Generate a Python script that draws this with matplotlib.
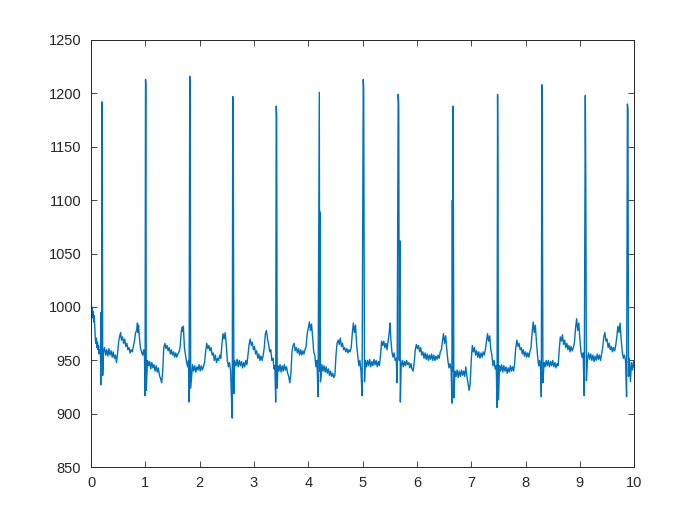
import matplotlib
matplotlib.use('Agg')
import matplotlib.pyplot as plt

# ECG trace, one line per beat (time in s, amplitude)
t = [
    0.00, 0.01, 0.02, 0.03, 0.04, 0.05, 0.06, 0.07, 0.08, 0.09, 0.10, 0.11, 0.12, 0.13, 0.14, 0.15, 0.16, 0.175, 0.180, 0.186, 0.195, 0.203, 0.208, 0.215,
    0.23, 0.25, 0.27, 0.29, 0.31, 0.33, 0.35, 0.37, 0.39, 0.41, 0.43, 0.45, 0.47, 0.49, 0.51, 0.53, 0.545, 0.56, 0.58, 0.60, 0.62, 0.64, 0.66, 0.68, 0.70, 0.72, 0.74, 0.76, 0.78, 0.80, 0.82, 0.84, 0.855, 0.865, 0.875, 0.89, 0.91, 0.93, 0.95, 0.97, 0.985, 0.995, 1.004, 1.010, 1.017,
    1.04, 1.06, 1.08, 1.10, 1.12, 1.14, 1.16, 1.18, 1.20, 1.22, 1.24, 1.26, 1.28, 1.30, 1.32, 1.34, 1.36, 1.38, 1.40, 1.42, 1.44, 1.46, 1.48, 1.50, 1.52, 1.54, 1.56, 1.58, 1.60, 1.62, 1.64, 1.66, 1.675, 1.69, 1.70, 1.72, 1.74, 1.76, 1.78, 1.795, 1.805, 1.818, 1.826, 1.835,
    1.87, 1.89, 1.91, 1.93, 1.95, 1.97, 1.99, 2.01, 2.03, 2.05, 2.07, 2.09, 2.11, 2.13, 2.15, 2.17, 2.19, 2.21, 2.23, 2.25, 2.27, 2.29, 2.31, 2.33, 2.35, 2.37, 2.39, 2.41, 2.43, 2.45, 2.47, 2.49, 2.51, 2.53, 2.55, 2.57, 2.585, 2.60, 2.610, 2.618, 2.63,
    2.645, 2.67, 2.69, 2.71, 2.73, 2.75, 2.77, 2.79, 2.81, 2.83, 2.85, 2.87, 2.89, 2.91, 2.93, 2.95, 2.97, 2.99, 3.01, 3.03, 3.05, 3.07, 3.09, 3.11, 3.13, 3.15, 3.17, 3.19, 3.21, 3.23, 3.25, 3.27, 3.29, 3.31, 3.33, 3.35, 3.37, 3.385, 3.40, 3.41, 3.418, 3.428,
    3.44, 3.46, 3.48, 3.50, 3.52, 3.54, 3.56, 3.58, 3.60, 3.62, 3.64, 3.66, 3.68, 3.70, 3.72, 3.74, 3.76, 3.78, 3.80, 3.82, 3.84, 3.86, 3.88, 3.90, 3.92, 3.94, 3.96, 3.98, 4.00, 4.02, 4.04, 4.06, 4.08, 4.10, 4.12, 4.14, 4.16, 4.18, 4.203, 4.210, 4.216, 4.224,
    4.235, 4.25, 4.27, 4.29, 4.31, 4.33, 4.35, 4.37, 4.39, 4.41, 4.43, 4.45, 4.47, 4.49, 4.51, 4.53, 4.55, 4.57, 4.59, 4.61, 4.63, 4.65, 4.67, 4.69, 4.71, 4.73, 4.75, 4.77, 4.79, 4.81, 4.83, 4.85, 4.87, 4.89, 4.91, 4.93, 4.95, 4.97, 4.99, 5.012, 5.020, 5.035,
    5.05, 5.07, 5.09, 5.11, 5.13, 5.15, 5.17, 5.19, 5.21, 5.23, 5.25, 5.27, 5.29, 5.31, 5.33, 5.35, 5.37, 5.39, 5.41, 5.43, 5.45, 5.47, 5.49, 5.505, 5.52, 5.54, 5.56, 5.58, 5.60, 5.62, 5.635, 5.655, 5.665, 5.675, 5.685, 5.695,
    5.71, 5.73, 5.75, 5.77, 5.79, 5.81, 5.83, 5.85, 5.87, 5.89, 5.91, 5.93, 5.95, 5.97, 5.99, 6.01, 6.03, 6.05, 6.07, 6.09, 6.11, 6.13, 6.15, 6.17, 6.19, 6.21, 6.23, 6.25, 6.27, 6.29, 6.31, 6.33, 6.35, 6.37, 6.39, 6.41, 6.43, 6.45, 6.47, 6.49, 6.51, 6.53, 6.55, 6.57, 6.59, 6.61, 6.63, 6.645, 6.652, 6.658, 6.667, 6.68,
    6.70, 6.72, 6.74, 6.76, 6.78, 6.80, 6.82, 6.84, 6.86, 6.88, 6.90, 6.92, 6.94, 6.96, 6.98, 7.00, 7.02, 7.04, 7.06, 7.08, 7.10, 7.12, 7.14, 7.16, 7.18, 7.20, 7.22, 7.24, 7.26, 7.28, 7.30, 7.32, 7.34, 7.36, 7.38, 7.40, 7.42, 7.44, 7.46, 7.475, 7.485, 7.492, 7.50,
    7.52, 7.54, 7.56, 7.58, 7.60, 7.62, 7.64, 7.66, 7.68, 7.70, 7.72, 7.74, 7.76, 7.78, 7.80, 7.82, 7.84, 7.86, 7.88, 7.90, 7.92, 7.94, 7.96, 7.98, 8.00, 8.02, 8.04, 8.06, 8.08, 8.10, 8.12, 8.14, 8.16, 8.18, 8.20, 8.22, 8.24, 8.26, 8.28, 8.29, 8.300, 8.308, 8.32,
    8.34, 8.36, 8.38, 8.40, 8.42, 8.44, 8.46, 8.48, 8.50, 8.52, 8.54, 8.56, 8.58, 8.60, 8.62, 8.64, 8.66, 8.68, 8.70, 8.72, 8.74, 8.76, 8.78, 8.80, 8.82, 8.84, 8.86, 8.88, 8.90, 8.92, 8.94, 8.96, 8.98, 9.00, 9.02, 9.04, 9.06, 9.08, 9.100, 9.108, 9.12,
    9.14, 9.16, 9.18, 9.20, 9.22, 9.24, 9.26, 9.28, 9.30, 9.32, 9.34, 9.36, 9.38, 9.40, 9.42, 9.44, 9.46, 9.48, 9.50, 9.52, 9.54, 9.56, 9.58, 9.60, 9.62, 9.64, 9.66, 9.68, 9.70, 9.72, 9.74, 9.76, 9.78, 9.80, 9.82, 9.84, 9.86, 9.875, 9.885, 9.895,
    9.91, 9.93, 9.95, 9.97, 9.99, 10.0,
]
ecg = [
    997, 993, 1000, 990, 996, 986, 992, 981, 970, 966, 971, 962, 967, 960, 964, 956, 960, 958, 927, 995, 948, 1192, 1153, 936,
    958, 962, 955, 960, 954, 961, 955, 959, 953, 958, 952, 955, 948, 957, 968, 973, 976, 969, 972, 966, 970, 963, 966, 960, 962, 957, 960, 958, 963, 968, 976, 978, 985, 976, 983, 972, 962, 958, 955, 960, 953, 917, 1213, 1208, 922,
    950, 945, 949, 942, 948, 943, 946, 940, 945, 939, 943, 936, 933, 929, 940, 962, 966, 961, 964, 959, 962, 956, 960, 955, 958, 953, 957, 953, 956, 958, 962, 976, 981, 977, 982, 962, 955, 948, 944, 950, 911, 1216, 1180, 924,
    946, 940, 945, 939, 944, 941, 946, 940, 945, 941, 944, 948, 958, 966, 961, 964, 959, 962, 955, 957, 950, 955, 948, 952, 950, 955, 952, 965, 975, 970, 976, 965, 950, 944, 948, 940, 916, 896, 1197, 1188, 919,
    950, 945, 951, 944, 950, 945, 949, 943, 948, 944, 950, 946, 955, 965, 970, 964, 967, 960, 963, 956, 959, 952, 956, 950, 954, 950, 955, 962, 975, 978, 970, 965, 958, 960, 950, 952, 942, 945, 911, 1188, 1180, 924,
    945, 940, 946, 939, 945, 940, 946, 941, 944, 938, 935, 929, 938, 958, 964, 966, 959, 962, 957, 961, 955, 960, 955, 959, 956, 960, 963, 975, 980, 986, 978, 984, 972, 958, 955, 944, 950, 916, 1201, 940, 1089, 930,
    935, 946, 940, 945, 939, 944, 938, 942, 936, 940, 935, 938, 934, 936, 955, 966, 969, 965, 971, 963, 966, 960, 962, 958, 961, 957, 960, 958, 962, 975, 985, 976, 983, 965, 955, 945, 950, 940, 917, 1213, 1205, 930,
    950, 944, 950, 945, 951, 944, 949, 945, 951, 946, 950, 944, 949, 945, 955, 968, 964, 968, 962, 966, 960, 968, 976, 985, 970, 958, 953, 957, 950, 952, 929, 1199, 1190, 950, 1062, 911,
    945, 950, 944, 949, 945, 950, 946, 948, 943, 947, 942, 940, 948, 960, 965, 961, 964, 958, 962, 955, 958, 952, 957, 951, 956, 950, 955, 951, 956, 950, 955, 950, 954, 951, 955, 952, 958, 960, 968, 975, 966, 973, 960, 950, 943, 947, 941, 910, 1100, 940, 1188, 915,
    940, 935, 941, 934, 940, 935, 941, 936, 940, 935, 944, 935, 929, 922, 928, 950, 964, 958, 962, 955, 959, 953, 958, 952, 957, 953, 958, 955, 960, 968, 975, 968, 973, 960, 955, 945, 950, 942, 945, 906, 1199, 1120, 913,
    945, 940, 946, 939, 945, 940, 944, 938, 943, 939, 945, 940, 944, 940, 948, 962, 969, 963, 966, 960, 962, 956, 960, 954, 958, 953, 957, 953, 958, 962, 975, 986, 976, 983, 968, 955, 945, 950, 940, 916, 1208, 1135, 929,
    948, 944, 950, 945, 950, 944, 949, 945, 950, 944, 948, 943, 947, 945, 960, 972, 968, 974, 965, 969, 962, 966, 960, 964, 958, 963, 959, 962, 967, 980, 989, 978, 985, 970, 958, 953, 957, 917, 1198, 1125, 931,
    952, 957, 951, 956, 950, 955, 949, 954, 950, 956, 951, 955, 950, 956, 962, 972, 976, 968, 970, 962, 966, 960, 963, 958, 962, 959, 964, 972, 982, 976, 985, 970, 958, 952, 955, 950, 916, 1190, 1185, 935,
    952, 930, 948, 941, 950, 944,
]

x_ticks = [0, 1, 2, 3, 4, 5, 6, 7, 8, 9, 10]
y_ticks = [850, 900, 950, 1000, 1050, 1100, 1150, 1200, 1250]

plt.rcParams['font.family'] = ['Liberation Sans', 'DejaVu Sans']

fig = plt.figure(figsize=(7, 5.25), dpi=100)
ax = fig.add_axes([0.13, 0.11, 0.776, 0.814])
ax.plot(t, ecg, color='#0072BD', linewidth=1.0)

ax.set_xlim(0, 10)
ax.set_ylim(850, 1250)
ax.set_xticks(x_ticks)
ax.set_yticks(y_ticks)
ax.tick_params(direction='in', top=True, right=True, length=4, width=0.6,
               colors='#262626', labelsize=10.5)
ax.tick_params(axis='x', pad=6)
ax.tick_params(axis='y', pad=7)
for side in ax.spines.values():
    side.set_color('#262626')
    side.set_linewidth(0.7)

fig.savefig('out.png', dpi=100)
